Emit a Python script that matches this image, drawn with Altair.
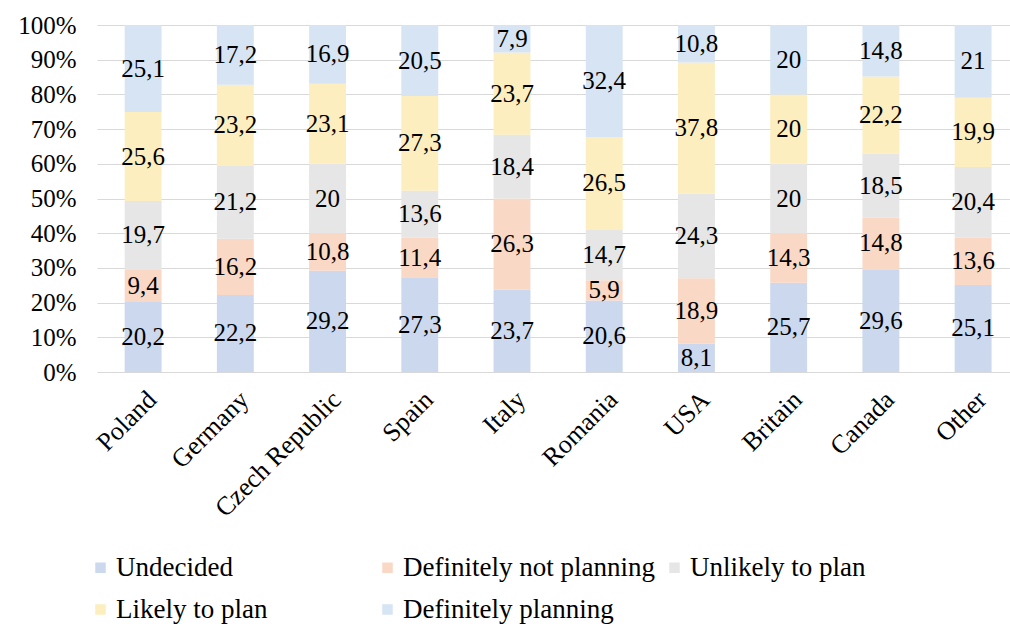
import altair as alt
import pandas as pd

countries = ["Poland", "Germany", "Czech Republic", "Spain", "Italy",
             "Romania", "USA", "Britain", "Canada", "Other"]
series = ["Undecided", "Definitely not planning", "Unlikely to plan",
          "Likely to plan", "Definitely planning"]
undecided = [20.2, 22.2, 29.2, 27.3, 23.7, 20.6, 8.1, 25.7, 29.6, 25.1]
def_not = [9.4, 16.2, 10.8, 11.4, 26.3, 5.9, 18.9, 14.3, 14.8, 13.6]
unlikely = [19.7, 21.2, 20, 13.6, 18.4, 14.7, 24.3, 20, 18.5, 20.4]
likely = [25.6, 23.2, 23.1, 27.3, 23.7, 26.5, 37.8, 20, 22.2, 19.9]
def_plan = [25.1, 17.2, 16.9, 20.5, 7.9, 32.4, 10.8, 20, 14.8, 21]
colors = ["#cbd8ee", "#f9d9c6", "#e6e6e6", "#fdeebf", "#d6e4f3"]

rows = []
for si, (name, vals) in enumerate(zip(series, [undecided, def_not, unlikely, likely, def_plan])):
    for c, v in zip(countries, vals):
        lab = (f"{v:g}").replace(".", ",")
        rows.append({"country": c, "series": name, "value": v, "order": si, "label": lab})
df = pd.DataFrame(rows)

FONT = "Liberation Serif"

base = alt.Chart(df).transform_stack(
    stack="value", groupby=["country"], as_=["y0", "y1"],
    offset="normalize", sort=[alt.SortField("order", order="ascending")]
).transform_calculate(mid="(datum.y0 + datum.y1) / 2")

xaxis = alt.Axis(labelAngle=-45, labelFont=FONT, labelFontSize=26,
                 labelColor="#000000", ticks=False, domain=False,
                 labelPadding=14, labelAlign="right", labelBaseline="top",
                 labelOverlap=False, grid=False, title=None)
yaxis = alt.Axis(format=".0%", values=[i / 10 for i in range(11)],
                 labelFont=FONT, labelFontSize=25, labelColor="#000000",
                 ticks=False, domain=False, gridColor="#d9d9d9",
                 labelPadding=21, labelOverlap=False, labelFlush=False, title=None)
xscale = alt.Scale(paddingInner=0.6, paddingOuter=0.25, align=0.6)
yscale = alt.Scale(domain=[0, 1], nice=False)

bars = base.mark_bar().encode(
    x=alt.X("country:N", sort=countries, title=None, scale=xscale, axis=xaxis),
    y=alt.Y("y0:Q", title=None, scale=yscale, axis=yaxis),
    y2="y1:Q",
    color=alt.Color("series:N", sort=series,
                    scale=alt.Scale(domain=series, range=colors),
                    legend=alt.Legend(title=None, orient="none", legendX=-10, legendY=529,
                                      direction="horizontal", columns=3, gridAlign="all",
                                      symbolType="square", symbolSize=110,
                                      symbolStrokeWidth=0,
                                      labelFont=FONT, labelFontSize=27, labelColor="#000000",
                                      labelLimit=400, columnPadding=6, rowPadding=14,
                                      symbolOffset=0, labelOffset=2)),
    order=alt.Order("order:Q"),
)

texts = base.mark_text(font=FONT, fontSize=25, color="#000000").encode(
    x=alt.X("country:N", sort=countries, title=None, scale=xscale, axis=xaxis),
    y=alt.Y("mid:Q", title=None, scale=yscale, axis=yaxis),
    text="label:N",
)

chart = alt.layer(bars, texts).properties(
    width=913, height=347,
    autosize=alt.AutoSizeParams(type="none"),
    padding={"left": 97, "top": 25, "right": 0, "bottom": 252},
).configure_view(stroke=None).configure_axis(gridWidth=1)

chart.save("out.html", embed_options={"renderer": "svg", "actions": False})
